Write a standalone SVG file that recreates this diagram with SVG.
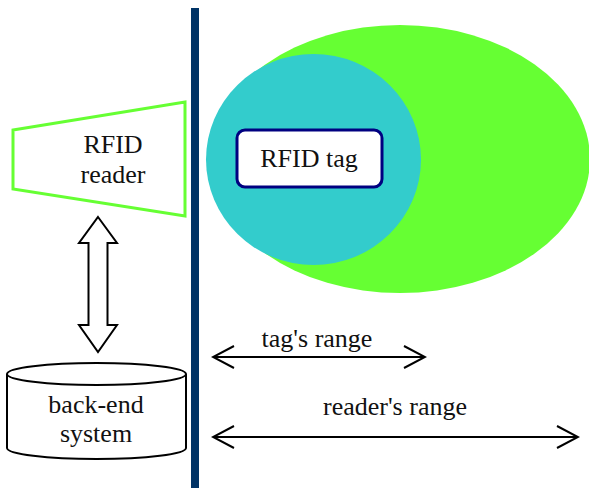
<svg xmlns="http://www.w3.org/2000/svg" width="589" height="488" viewBox="0 0 589 488">
  <defs>
    <style>
      .lbl { font-family: Liberation Serif, Tinos, DejaVu Serif, serif; font-size: 26px; fill: #111; text-anchor: middle; }
      .out { fill: #fff; stroke: #000; stroke-width: 2; }
      .rng { fill: none; stroke: #000; stroke-width: 2; }
    </style>
    <marker id="chev" viewBox="0 0 24 24" refX="22" refY="12" markerWidth="24" markerHeight="24" markerUnits="userSpaceOnUse" orient="auto-start-reverse">
      <path d="M1 1 L22 12 L1 23" fill="none" stroke="#000" stroke-width="2"/>
    </marker>
  </defs>
  <rect width="589" height="488" fill="#fff"/>

  <!-- coverage areas -->
  <g id="reader-field">
    <ellipse cx="400" cy="159" rx="190" ry="134" fill="#66ff33"/>
  </g>
  <g id="tag-field">
    <ellipse cx="313.5" cy="159.5" rx="107.5" ry="105.5" fill="#33cccc"/>
  </g>

  <g id="rfid-tag">
    <rect x="237" y="130" width="145" height="57" rx="8" fill="#fff" stroke="#000080" stroke-width="3"/>
    <text class="lbl" x="309" y="167">RFID tag</text>
  </g>

  <!-- divider -->
  <g id="divider">
    <rect x="191" y="8" width="8" height="480" fill="#003366"/>
  </g>

  <g id="rfid-reader">
    <polygon points="13,130 185,102 185,216 13,189" fill="#fff" stroke="#66ff33" stroke-width="3"/>
    <text class="lbl" x="113" y="153">RFID</text>
    <text class="lbl" x="113" y="183">reader</text>
  </g>

  <g id="back-end-system">
    <path class="out" d="M7 374 L7 448 A89.5 11 0 0 0 186 448 L186 374"/>
    <ellipse class="out" cx="96.5" cy="374" rx="89.5" ry="11"/>
    <text class="lbl" x="96" y="413">back-end</text>
    <text class="lbl" x="96" y="442">system</text>
  </g>

  <g id="connectors">
    <path class="out" d="M98 217 L117 243 L107.5 243 L107.5 325 L117 325 L98 352 L79 325 L88.5 325 L88.5 243 L79 243 Z"/>
    <line class="rng" x1="213" y1="357" x2="425" y2="357" marker-start="url(#chev)" marker-end="url(#chev)"/>
    <text class="lbl" x="317" y="347">tag's range</text>
    <line class="rng" x1="213" y1="437" x2="578" y2="437" marker-start="url(#chev)" marker-end="url(#chev)"/>
    <text class="lbl" x="395" y="415">reader's range</text>
  </g>
</svg>
